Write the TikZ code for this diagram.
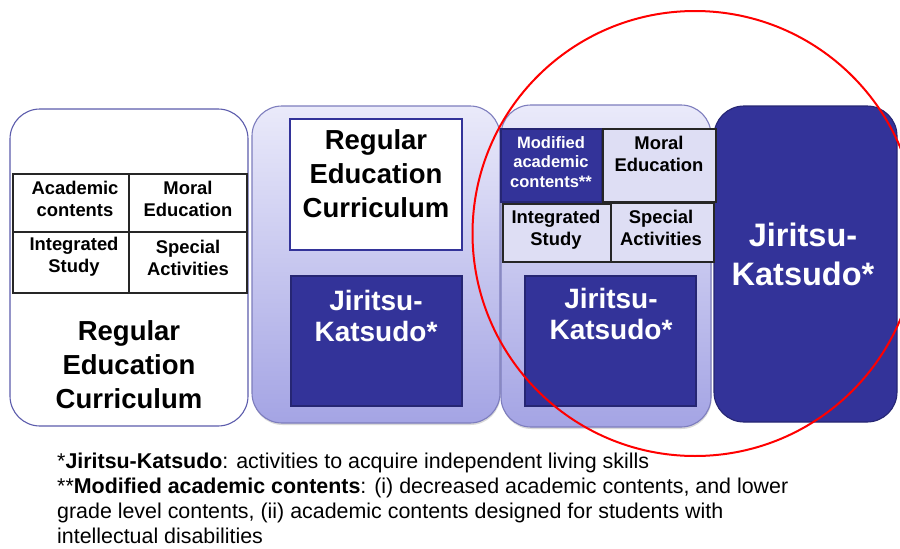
\documentclass[tikz,border=0pt]{standalone}
\usepackage{fontspec}
\setmainfont{Liberation Sans}
\usetikzlibrary{shadows}
\definecolor{jkblue}{RGB}{51,51,153}
\colorlet{jkdark}{jkblue!75!black}
\definecolor{lavtop}{RGB}{234,234,250}
\definecolor{lavbot}{RGB}{164,164,228}
\definecolor{lavcell}{RGB}{222,222,244}
\definecolor{rimblue}{RGB}{92,92,172}
\tikzset{
  x=1pt, y=-1pt,
  panel/.style={rounded corners=30pt,inner sep=0,outer sep=0,line width=1.1pt},
  panel plain/.style={panel,draw=rimblue,fill=white},
  panel soft/.style={panel,draw=rimblue!80,top color=lavtop,bottom color=lavbot,
    drop shadow={shadow xshift=0.5pt,shadow yshift=-2pt,opacity=0.25,fill=black!60}},
  panel dark/.style={panel,draw=jkdark,fill=jkblue},
  cell/.style={draw=black!85,line width=1.2pt,inner sep=0,outer sep=0},
  cell soft/.style={cell,fill=lavcell},
  cell dark/.style={draw=jkdark,line width=1.2pt,fill=jkblue,inner sep=0,outer sep=0},
  cell white/.style={draw=jkblue,line width=1.2pt,fill=white,inner sep=0,outer sep=0},
  lbl small/.style={align=center,font=\bfseries\fontsize{18.4}{22}\selectfont},
  lbl tiny/.style={align=center,text=white,font=\bfseries\fontsize{16.5}{19.5}\selectfont},
  lbl big/.style={align=center,font=\bfseries\fontsize{27.5}{34}\selectfont},
  lbl jk/.style={align=center,text=white,font=\bfseries\fontsize{28}{31}\selectfont},
  lbl huge/.style={align=center,text=white,font=\bfseries\fontsize{32.5}{39}\selectfont},
  note/.style={anchor=base west,inner sep=0,font=\fontsize{21.4}{25}\selectfont},
  ring/.style={draw=red,line width=2pt,circle,minimum size=445pt,inner sep=0}
}
\begin{document}
\begin{tikzpicture}
  \useasboundingbox (0,0) rectangle (900,549);

  % the four curricula
  \node[panel plain,minimum width=238pt,minimum height=317pt] (regular) at (129,267.5) {};
  \node[panel soft,minimum width=248pt,minimum height=317pt] (mixed) at (376,264.5) {};
  \node[panel soft,minimum width=210pt,minimum height=322pt] (modified) at (606,266) {};
  \node[panel dark,minimum width=183pt,minimum height=316pt] (jiritsu) at (805.5,264) {};

  % regular curriculum: subject grid and title
  \node[cell,minimum width=116pt,minimum height=58pt] (acad) at (71,203) {};
  \node[cell,minimum width=118pt,minimum height=58pt] (moral) at (188,203) {};
  \node[cell,minimum width=116pt,minimum height=61pt] (integ) at (71,262.5) {};
  \node[cell,minimum width=118pt,minimum height=61pt] (spec) at (188,262.5) {};
  \node[lbl small] (acad txt) at (75,199) {Academic\\contents};
  \node[lbl small] (moral txt) at (188,199) {Moral\\Education};
  \node[lbl small] (integ txt) at (74,257) {Integrated\\Study};
  \node[lbl small] (spec txt) at (188,258) {Special\\Activities};
  \node[lbl big] (regular txt) at (129,365) {Regular\\Education\\Curriculum};

  % regular curriculum plus jiritsu-katsudo
  \node[cell white,minimum width=172pt,minimum height=131pt] (mix reg) at (376,184.5) {};
  \node[lbl big] (mix reg txt) at (376,174) {Regular\\Education\\Curriculum};
  \node[cell dark,minimum width=171pt,minimum height=130pt] (mix jk) at (376.5,341) {};
  \node[lbl jk] (mix jk txt) at (376,316) {Jiritsu-\\Katsudo*};

  % modified contents plus jiritsu-katsudo
  \node[cell dark,minimum width=101pt,minimum height=73pt] (mod acad) at (551.5,165.5) {};
  \node[cell soft,minimum width=113pt,minimum height=73pt] (mod moral) at (659.5,165.5) {};
  \node[cell soft,minimum width=108pt,minimum height=58pt] (mod integ) at (557,233) {};
  \node[cell soft,minimum width=103pt,minimum height=59pt] (mod spec) at (662.5,232.5) {};
  \node[lbl tiny] (mod acad txt) at (551,162) {Modified\\academic\\contents**};
  \node[lbl small] (mod moral txt) at (659,154) {Moral\\Education};
  \node[lbl small] (mod integ txt) at (556,230) {Integrated\\Study};
  \node[lbl small] (mod spec txt) at (661,228) {Special\\Activities};
  \node[cell dark,minimum width=171pt,minimum height=130pt] (mod jk) at (610.5,341) {};
  \node[lbl jk] (mod jk txt) at (611,314) {Jiritsu-\\Katsudo*};

  % jiritsu-katsudo only
  \node[lbl huge] (jiritsu txt) at (803,254) {Jiritsu-\\Katsudo*};

  % highlight
  \node[ring] (focus) at (695,233.5) {};

  % footnotes
  \node[note] (note1) at (57,468) {*\textbf{Jiritsu-Katsudo}: activities to acquire independent living skills};
  \node[note] (note2) at (57,493) {**\textbf{Modified academic contents}: (i) decreased academic contents, and lower};
  \node[note] (note3) at (57,518) {grade level contents, (ii) academic contents designed for students with};
  \node[note] (note4) at (57,543) {intellectual disabilities};
\end{tikzpicture}
\end{document}
